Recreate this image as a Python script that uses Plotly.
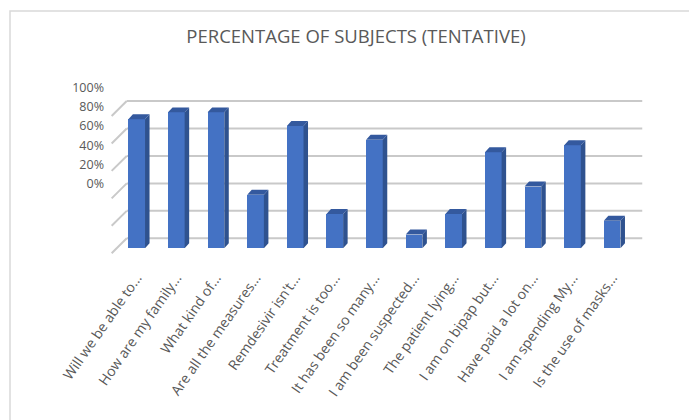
import plotly.graph_objects as go

# ---------------- data ----------------
categories = [
    "Will we be able to...", "How are my family...", "What kind of...",
    "Are all the measures...", "Remdesivir isn't...", "Treatment is too...",
    "It has been so many...", "I am been suspected...", "The patient lying...",
    "I am on bipap but...", "Have paid a lot on...", "I am spending My...",
    "Is the use of masks...",
]
values = [94, 99, 99, 39, 89, 25, 79, 10, 25, 70, 45, 75, 20]
grid_values = [0, 20, 40, 60, 80, 100]
tick_labels = ["0%", "20%", "40%", "60%", "80%", "100%"]
title = "PERCENTAGE OF SUBJECTS (TENTATIVE)"

# ---------------- style ----------------
W, H = 689, 420
L, R, T, B = 105, 650, 75, 262
FRONT = "#4472C4"
SIDE = "#2F528F"
TOP = "#34599E"
GRID = "#C9C9C9"
TXT = "#595959"
FONT = "Open Sans"

bar_w = 0.42
dx, dy = 0.114, 3.64          # bar depth offset (data units)
wall_dx, wall_dy = 0.38, 10.9  # floor depth (front edge -> back wall)
wall_x0 = -0.252
wall_x1 = 12.76
back_off = 7.28                # back wall baseline above bar base

xs = list(range(len(categories)))

fig = go.Figure()

# front faces
fig.add_trace(go.Bar(x=xs, y=values, width=bar_w, marker=dict(color=FRONT, line=dict(width=0)),
                     hoverinfo="skip", showlegend=False))

# side faces
sx, sy = [], []
for x, v in zip(xs, values):
    xr = x + bar_w / 2
    sx += [xr, xr + dx, xr + dx, xr, xr, None]
    sy += [0, dy, v + dy, v, 0, None]
fig.add_trace(go.Scatter(x=sx, y=sy, mode="lines", fill="toself", fillcolor=SIDE,
                         line=dict(width=0, color=SIDE), hoverinfo="skip", showlegend=False))
# top faces
tx, ty = [], []
for x, v in zip(xs, values):
    xl, xr = x - bar_w / 2, x + bar_w / 2
    tx += [xl, xl + dx, xr + dx, xr, xl, None]
    ty += [v, v + dy, v + dy, v, v, None]
fig.add_trace(go.Scatter(x=tx, y=ty, mode="lines", fill="toself", fillcolor=TOP,
                         line=dict(width=0, color=TOP), hoverinfo="skip", showlegend=False))

# dummy trace to activate label axis
fig.add_trace(go.Scatter(x=[None], y=[None], yaxis="y2", hoverinfo="skip", showlegend=False))

# back-wall gridlines + left floor diagonals (below bars)
shapes = []
for g in grid_values:
    shapes.append(dict(type="line", xref="x", yref="y", layer="below",
                       x0=wall_x0, x1=wall_x1, y0=g + back_off, y1=g + back_off,
                       line=dict(color=GRID, width=2)))
    shapes.append(dict(type="line", xref="x", yref="y", layer="below",
                       x0=wall_x0 - wall_dx, x1=wall_x0,
                       y0=g + back_off - wall_dy, y1=g + back_off,
                       line=dict(color=GRID, width=2)))

# outer border (light)
pw, ph = R - L, B - T
def px_x(p): return (p - L) / pw
def px_y(p): return (B - p) / ph
shapes.append(dict(type="rect", xref="paper", yref="paper", layer="above",
                   x0=px_x(10), x1=px_x(700), y0=px_y(11), y1=px_y(430),
                   line=dict(color="#D9D9D9", width=1.5), fillcolor="rgba(0,0,0,0)"))

s_y = 1.373   # px per unit primary
s_y2 = 0.967  # px per unit label axis
base_px = 248.3
lab0_px = 184

fig.update_layout(
    width=W, height=H,
    margin=dict(l=L, r=W - R, t=T, b=H - B, pad=0),
    paper_bgcolor="white", plot_bgcolor="white",
    font=dict(family=FONT, color=TXT, size=12),
    title=dict(text=title, x=356 / W, xanchor="center", y=1 - 36.7 / H, yanchor="middle",
               yref="container", xref="container",
               font=dict(family=FONT, size=18.5, color=TXT)),
    xaxis=dict(range=[(L - 136.7) / 39.62, (R - 136.7) / 39.62],
               tickvals=xs, ticktext=categories, tickangle=-55,
               ticklabelstandoff=4,
               showgrid=False, zeroline=False, showline=False, ticks="",
               tickfont=dict(family=FONT, size=14, color=TXT)),
    yaxis=dict(range=[-(B - base_px) / s_y, (base_px - T) / s_y],
               showticklabels=False, showgrid=False, zeroline=False, showline=False, ticks=""),
    yaxis2=dict(overlaying="y", side="left",
                range=[-(B - lab0_px) / s_y2, (lab0_px - T) / s_y2],
                tickvals=grid_values, ticktext=tick_labels,
                showgrid=False, zeroline=False, showline=False, ticks="",
                tickfont=dict(family=FONT, size=12.5, color=TXT)),
    shapes=shapes,
    bargap=0,
)

fig.write_html("out.html")
